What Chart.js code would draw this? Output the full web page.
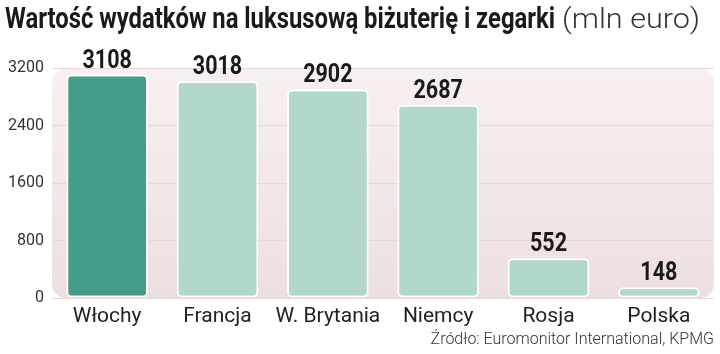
<!DOCTYPE html>
<html>
<head>
<meta charset="utf-8">
<script src="https://cdn.jsdelivr.net/npm/chart.js@4"></script>
<style>
  html, body { margin: 0; padding: 0; background: #fff; }
  #wrap { position: relative; width: 720px; height: 354px; overflow: hidden; }
  .t { position: absolute; top: 1px; white-space: nowrap; transform-origin: 0 0; }
  #titleMain { left: 5px; font-family: Roboto, sans-serif; font-weight: bold; font-size: 29px; color: #1a1a1a; }
  #titleUnit { left: 562px; top: 3px; font-family: Roboto, sans-serif; font-weight: 300; font-size: 27px; color: #333; }
  #source { position: absolute; right: 6px; top: 329px; font-family: Roboto, sans-serif; font-weight: 300; font-size: 16px; color: #333; white-space: nowrap; }
</style>
</head>
<body>
<div id="wrap">
  <canvas id="chart" width="720" height="354"></canvas>
  <div id="titleMain" class="t">Wartość wydatków na luksusową biżuterię i zegarki</div>
  <div id="titleUnit" class="t">(mln euro)</div>
  <div id="source">Źródło: Euromonitor International, KPMG</div>
</div>
<script>
const countries = ['Włochy', 'Francja', 'W. Brytania', 'Niemcy', 'Rosja', 'Polska'];
const spending = [3108, 3018, 2902, 2687, 552, 148];
const yTicks = [0, 800, 1600, 2400, 3200];

const barColors = countries.map((c, i) => i === 0 ? '#459c88' : '#b1d8cb');

// zwężenie tytułu (brak fontu condensed)
function squeeze(id, target) {
  const el = document.getElementById(id);
  const w = el.getBoundingClientRect().width;
  el.style.transform = `scaleX(${target / w})`;
}
squeeze('titleMain', 550);
squeeze('titleUnit', 138);

// tło panelu z zaokrąglonymi rogami
const panelBg = {
  id: 'panelBg',
  beforeDraw(chart) {
    const { ctx, chartArea: a } = chart;
    const g = ctx.createLinearGradient(0, a.top, 0, a.bottom);
    g.addColorStop(0, '#f8f0f0');
    g.addColorStop(1, '#ecdfe0');
    ctx.save();
    ctx.fillStyle = g;
    ctx.beginPath();
    ctx.roundRect(a.left, a.top, a.right - a.left, a.bottom - a.top, 14);
    ctx.fill();
    ctx.restore();
  }
};

// etykiety wartości nad słupkami
const valueLabels = {
  id: 'valueLabels',
  afterDatasetsDraw(chart) {
    const { ctx } = chart;
    const meta = chart.getDatasetMeta(0);
    ctx.save();
    ctx.font = 'bold 25px Roboto, sans-serif';
    ctx.fillStyle = '#1a1a1a';
    ctx.textAlign = 'center';
    ctx.textBaseline = 'alphabetic';
    meta.data.forEach((bar, i) => {
      ctx.save();
      ctx.translate(bar.x, bar.y - 7);
      ctx.scale(0.86, 1);
      ctx.fillText(String(spending[i]), 0, 0);
      ctx.restore();
    });
    ctx.restore();
  }
};

new Chart(document.getElementById('chart'), {
  type: 'bar',
  data: {
    labels: countries,
    datasets: [{
      data: spending,
      backgroundColor: barColors,
      borderColor: '#ffffff',
      borderWidth: 2,
      borderRadius: 5,
      borderSkipped: false,
      barPercentage: 0.74,
      categoryPercentage: 1,
    }],
  },
  options: {
    responsive: false,
    animation: false,
    layout: { padding: { top: 68, right: 6, left: 0, bottom: 0 } },
    plugins: {
      legend: { display: false },
      tooltip: { enabled: false },
    },
    scales: {
      x: {
        grid: { display: false },
        border: { display: false },
        ticks: {
          color: '#222',
          padding: -2,
          minRotation: 0,
          maxRotation: 0,
          autoSkip: false,
          font: { family: 'Roboto, sans-serif', size: 21 },
        },
        afterFit(scale) { scale.height = 56; },
      },
      y: {
        min: 0,
        max: 3200,
        afterBuildTicks(scale) { scale.ticks = yTicks.map(v => ({ value: v })); },
        grid: { color: '#e6d8d9', drawTicks: false },
        border: { display: false },
        ticks: {
          color: '#333',
          padding: 8,
          callback: (v) => String(v),
          font: { family: 'Roboto, sans-serif', size: 16 },
        },
        afterFit(scale) { scale.width = 52; },
      },
    },
  },
  plugins: [panelBg, valueLabels],
});
</script>
</body>
</html>
